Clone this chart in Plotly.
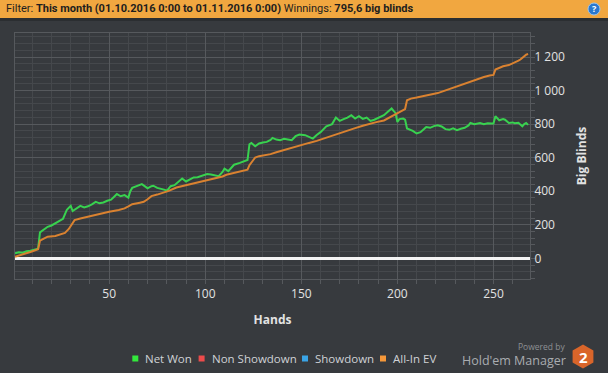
import plotly.graph_objects as go

# ---------------- data ----------------
net_won_hands = [1,3,5,7,9,11,13,14,16,18,20,22,24,26,28,30,31,33,35,37,39,41,43,45,47,49,51,53,54,56,58,60,61,62,64,66,67,69,70,72,73,75,77,79,80,82,84,86,88,90,92,94,96,98,101,103,105,107,109,110,112,115,118,120,122,123,124,126,128,130,132,134,135,137,139,141,143,145,147,149,152,154,156,158,160,163,166,168,170,172,174,176,178,180,182,184,186,188,190,193,195,197,198,199,200,201,203,204,205,207,208,210,212,214,215,217,219,221,223,225,227,229,231,233,235,237,238,240,242,243,245,247,249,250,251,253,255,256,258,260,261,263,264,265,266,267,268]
net_won_bb = [30,36,34,42,45,50,58,155,172,188,196,210,220,236,290,313,282,300,313,304,310,322,337,328,333,343,350,372,383,370,377,362,400,420,428,436,442,426,417,430,433,420,416,408,402,430,436,455,476,458,470,482,484,490,502,500,496,490,515,534,520,558,569,576,586,680,688,668,685,690,694,706,718,708,704,712,710,704,728,738,734,724,714,735,752,787,800,839,819,830,839,853,833,847,831,839,819,826,836,853,873,893,879,867,813,830,833,826,774,764,760,744,752,772,783,778,788,793,786,770,766,775,764,772,778,792,807,800,806,807,799,805,803,804,847,823,830,826,807,810,805,808,797,787,800,807,795.6]

allin_ev_hands = [1,5,9,13,14,16,18,22,25,27,29,31,32,35,40,45,50,55,58,60,62,66,68,70,72,75,78,81,85,90,95,99,103,106,109,111,115,119,122,123,125,126,128,131,134,137,140,144,147,150,154,158,163,167,170,175,178,182,185,189,193,196,199,203,204,205,207,210,214,218,221,226,230,233,237,240,245,248,250,251,253,255,258,261,263,264,266,267,268]
allin_ev_bb = [10,22,38,54,105,118,129,133,142,152,175,215,228,238,252,268,278,288,298,310,323,332,337,352,371,380,390,402,422,436,450,462,470,478,488,498,510,522,528,555,585,601,609,615,621,632,642,655,668,676,688,700,720,734,744,764,776,790,800,812,822,840,855,880,890,942,952,958,966,978,985,1005,1020,1035,1052,1064,1081,1090,1093,1125,1135,1145,1152,1166,1178,1185,1205,1214,1218]

legend_names = ["Net Won", "Non Showdown", "Showdown", "All-In EV"]
legend_colors = ["#33e83c", "#ec4b4b", "#3aa4e6", "#f5983a"]

header_filter = "This month (01.10.2016 0:00 to 01.11.2016 0:00)"
header_winnings = "795,6 big blinds"

# ---------------- layout geometry ----------------
W, H = 608, 373
L, R, T, B = 15, 78, 33, 94
PW, PH = W - L - R, H - T - B


def fx(px):
    return (px - L) / PW


def fy(py):
    return (H - B - py) / PH


BG = "#373a3e"
GRID_MAJOR = "#56595d"
GRID_MINOR = "#45484c"
TXT = "#e2e2e2"
FONT = "Open Sans, Liberation Sans, sans-serif"

fig = go.Figure()

fig.add_trace(go.Scatter(x=net_won_hands, y=net_won_bb, mode="lines", name=legend_names[0],
                         line=dict(color="#38d24f", width=2), showlegend=False))
fig.add_trace(go.Scatter(x=allin_ev_hands, y=allin_ev_bb, mode="lines", name=legend_names[3],
                         line=dict(color="#da8230", width=2), showlegend=False))

shapes = [
    # orange header bar
    dict(type="rect", xref="paper", yref="paper", x0=fx(0), x1=fx(W), y0=fy(0), y1=fy(18),
         fillcolor="#f1a740", line=dict(width=0), layer="above"),
    dict(type="rect", xref="paper", yref="paper", x0=fx(0), x1=fx(W), y0=fy(18), y1=fy(21),
         fillcolor="#2b2e31", line=dict(width=0), layer="above"),
    # help icon
    dict(type="circle", xref="paper", yref="paper", x0=fx(588), x1=fx(600), y0=fy(3), y1=fy(15),
         fillcolor="#2a78cf", line=dict(color="#9cc6f0", width=1), layer="above"),
    # logo hexagon
    dict(type="path", xref="paper", yref="paper", xsizemode="pixel", ysizemode="pixel",
         xanchor=fx(583), yanchor=fy(356.5),
         path="M 0 12 L 10.4 6 L 10.4 -6 L 0 -12 L -10.4 -6 L -10.4 6 Z",
         fillcolor="#d9652a", line=dict(width=0), layer="above"),
]

annotations = [
    dict(xref="paper", yref="paper", x=fx(4), y=fy(9), xanchor="left", yanchor="middle",
         showarrow=False,
         text="Filter: <b>" + header_filter + "</b> Winnings: <b>" + header_winnings + "</b>",
         font=dict(family="Roboto, sans-serif", size=11, color="#1e1e1e")),
    dict(xref="paper", yref="paper", x=fx(594), y=fy(9), xanchor="center", yanchor="middle",
         showarrow=False, text="<b>?</b>", font=dict(family=FONT, size=9, color="white")),
    dict(xref="paper", yref="paper", x=fx(567), y=fy(346), xanchor="right", yanchor="middle",
         showarrow=False, text="Powered by", font=dict(family=FONT, size=8.5, color="#8d9094")),
    dict(xref="paper", yref="paper", x=fx(568), y=fy(360.5), xanchor="right", yanchor="middle",
         showarrow=False, text="Hold'em Manager", font=dict(family=FONT, size=12.5, color="#a9acb0")),
    dict(xref="paper", yref="paper", x=fx(583), y=fy(357), xanchor="center", yanchor="middle",
         showarrow=False, text="<b>2</b>", font=dict(family=FONT, size=15, color="white")),
]

# legend (square swatch + label), laid out like the original footer legend
legend_marker_px = [135.3, 201.6, 305.0, 383.0]
legend_text_px = [143.0, 209.5, 313.0, 390.6]
for name, col, mx, tx in zip(legend_names, legend_colors, legend_marker_px, legend_text_px):
    shapes.append(dict(type="rect", xref="paper", yref="paper", xsizemode="pixel",
                       ysizemode="pixel", xanchor=fx(mx), yanchor=fy(358.5),
                       x0=-3, x1=3, y0=-3, y1=3, fillcolor=col, line=dict(width=0),
                       layer="above"))
    annotations.append(dict(xref="paper", yref="paper", x=fx(tx), y=fy(358.5),
                            xanchor="left", yanchor="middle", showarrow=False, text=name,
                            font=dict(family=FONT, size=11.5, color="#cfd2d6")))

fig.update_layout(
    width=W, height=H,
    margin=dict(l=L, r=R, t=T, b=B, pad=0),
    paper_bgcolor=BG, plot_bgcolor=BG,
    font=dict(family=FONT, size=12, color=TXT),
    separators=", ",
    shapes=shapes,
    annotations=annotations,
    showlegend=False,
    xaxis=dict(
        range=[1, 269], tick0=0, dtick=50,
        showgrid=True, gridcolor=GRID_MAJOR, gridwidth=1,
        ticks="outside", ticklen=4, tickcolor=GRID_MAJOR,
        minor=dict(tick0=0, dtick=10, showgrid=True, gridcolor=GRID_MINOR,
                   ticks="outside", ticklen=4, tickcolor=GRID_MAJOR),
        showline=True, linecolor=GRID_MAJOR, linewidth=1, mirror=True,
        zeroline=False,
        tickfont=dict(size=12, color=TXT),
        title=dict(text="<b>Hands</b>", standoff=14, font=dict(size=12, color=TXT)),
    ),
    yaxis=dict(
        side="right", range=[-123, 1343], tick0=0, dtick=200, tickformat=",d",
        showgrid=True, gridcolor=GRID_MAJOR, gridwidth=1,
        ticks="outside", ticklen=4, tickcolor=GRID_MAJOR,
        minor=dict(tick0=0, dtick=40, showgrid=True, gridcolor=GRID_MINOR,
                   ticks="outside", ticklen=4, tickcolor=GRID_MAJOR),
        showline=True, linecolor=GRID_MAJOR, linewidth=1, mirror=True,
        zeroline=True, zerolinecolor="#f4f4f4", zerolinewidth=2.5,
        ticklabelstandoff=-3,
        tickfont=dict(size=12, color=TXT),
        title=dict(text="<b>Big Blinds</b>", standoff=13, font=dict(size=12, color=TXT)),
    ),
)

# remove the browser's default 8px page margin so the figure sits at the window origin
fig.write_html("out.html",
               config={"displayModeBar": False},
               post_script="document.body.style.margin='0px';"
                           "document.body.style.background='" + BG + "';")
